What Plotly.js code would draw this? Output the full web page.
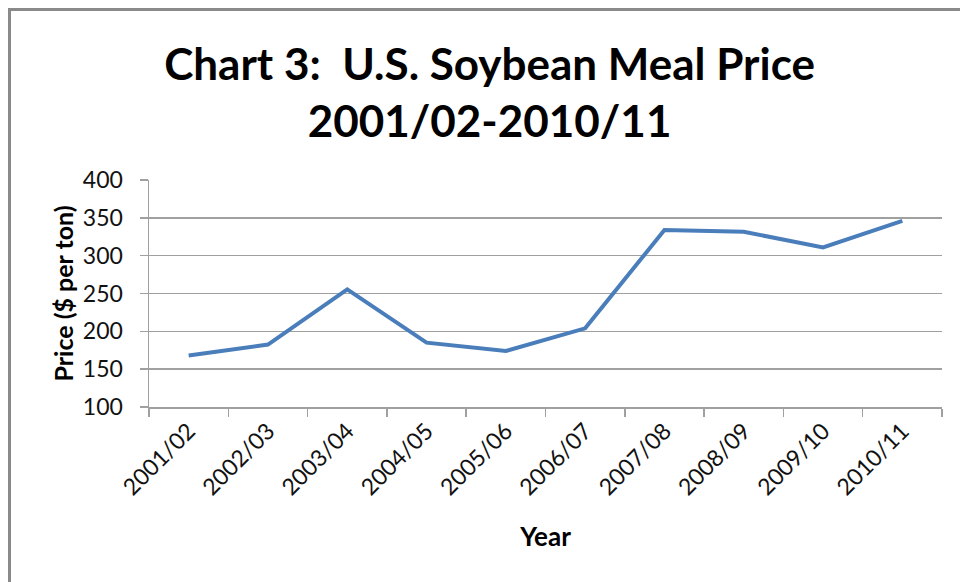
<!DOCTYPE html>
<html>
<head>
<meta charset="utf-8">
<script src="https://cdn.plot.ly/plotly-3.0.1.min.js"></script>
<style>
  html, body { margin: 0; padding: 0; background: #fff; }
  #wrap { position: relative; width: 960px; height: 582px; overflow: hidden; }
  #chart { width: 960px; height: 582px; }
  #frame { position: absolute; left: 8px; top: 8px; width: 1000px; height: 700px;
           border-left: 3px solid #8a8a8a; border-top: 3px solid #8a8a8a; pointer-events: none; }
</style>
</head>
<body>
<div id="wrap">
  <div id="chart"></div>
  <div id="frame"></div>
</div>
<script>
const years = ["2001/02", "2002/03", "2003/04", "2004/05", "2005/06",
               "2006/07", "2007/08", "2008/09", "2009/10", "2010/11"];
const price = [168, 182.5, 255.5, 185, 174, 204, 334, 331.5, 311, 346];
const yTicks = [100, 150, 200, 250, 300, 350, 400];

const trace = {
  x: years,
  y: price,
  type: "scatter",
  mode: "lines",
  line: { color: "#4a7ebb", width: 4 },
  hoverinfo: "x+y"
};

const layout = {
  width: 960,
  height: 582,
  paper_bgcolor: "#ffffff",
  plot_bgcolor: "#ffffff",
  margin: { l: 149, r: 18, t: 180, b: 175, pad: 0 },
  showlegend: false,
  font: { family: "Lato, 'Open Sans', sans-serif", color: "#000" },
  title: {
    text: "Chart 3:  U.S. Soybean Meal Price<br>2001/02-2010/11",
    font: { family: "Lato, sans-serif", size: 44, weight: "bold", color: "#000" },
    x: 0.51, xref: "container", xanchor: "center",
    y: 1 - 80 / 582, yref: "container", yanchor: "top"
  },
  xaxis: {
    type: "category",
    range: [-0.5, 9.5],
    tickson: "boundaries",
    ticks: "outside",
    ticklen: 8,
    tickwidth: 1.5,
    tickcolor: "#a0a0a0",
    showline: true,
    linecolor: "#a0a0a0",
    linewidth: 1.5,
    showgrid: false,
    zeroline: false,
    tickangle: -45,
    tickfont: { family: "Lato, sans-serif", size: 23, color: "#111" },
    title: {
      text: "Year",
      font: { family: "Lato, sans-serif", size: 26, weight: "bold", color: "#000" },
      standoff: 28
    }
  },
  yaxis: {
    range: [100, 400],
    tickvals: yTicks,
    ticktext: yTicks.map(String),
    ticks: "outside",
    ticklen: 8,
    tickwidth: 1.5,
    tickcolor: "#a0a0a0",
    showline: true,
    linecolor: "#a0a0a0",
    linewidth: 1.5,
    showgrid: true,
    gridcolor: "#a0a0a0",
    gridwidth: 1.5,
    zeroline: false,
    ticklabelstandoff: 12,
    tickfont: { family: "Lato, sans-serif", size: 23, color: "#111" },
    title: {
      text: "Price ($ per ton)",
      font: { family: "Lato, sans-serif", size: 25, weight: "bold", color: "#000" },
      standoff: 2
    }
  }
};

Plotly.newPlot("chart", [trace], layout, { displayModeBar: false, staticPlot: true });
</script>
</body>
</html>
